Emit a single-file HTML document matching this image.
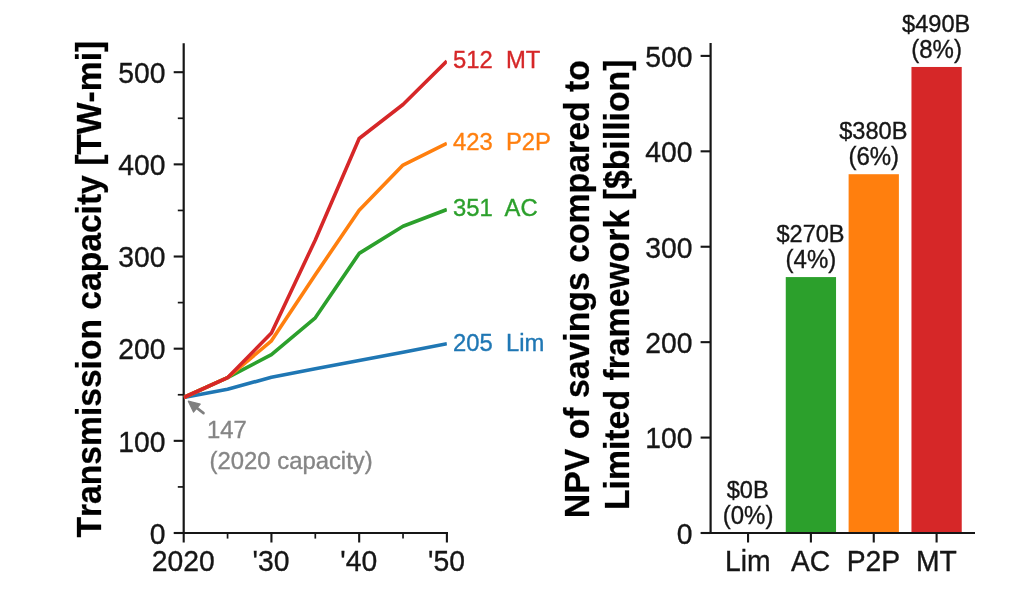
<!DOCTYPE html>
<html lang="en"><head><meta charset="utf-8"><title>Transmission capacity and NPV of savings</title>
<style>html,body{margin:0;padding:0;background:#fff}svg{display:block}text{font-family:"Liberation Sans",Arial,Helvetica,sans-serif;white-space:pre}</style></head><body>
<svg width="1024" height="594" viewBox="0 0 1024 594">
<rect width="1024" height="594" fill="#fff"/>
<defs><clipPath id="lc"><rect x="183.7" y="43.2" width="263.20" height="489.80"/></clipPath></defs>
<g stroke="#161616" fill="none">
<line x1="173.70" x2="183.70" y1="533.00" y2="533.00" stroke-width="2.1"/>
<line x1="173.70" x2="183.70" y1="440.84" y2="440.84" stroke-width="2.1"/>
<line x1="173.70" x2="183.70" y1="348.68" y2="348.68" stroke-width="2.1"/>
<line x1="173.70" x2="183.70" y1="256.52" y2="256.52" stroke-width="2.1"/>
<line x1="173.70" x2="183.70" y1="164.36" y2="164.36" stroke-width="2.1"/>
<line x1="173.70" x2="183.70" y1="72.20" y2="72.20" stroke-width="2.1"/>
<line x1="177.80" x2="183.70" y1="486.92" y2="486.92" stroke-width="1.7"/>
<line x1="177.80" x2="183.70" y1="394.76" y2="394.76" stroke-width="1.7"/>
<line x1="177.80" x2="183.70" y1="302.60" y2="302.60" stroke-width="1.7"/>
<line x1="177.80" x2="183.70" y1="210.44" y2="210.44" stroke-width="1.7"/>
<line x1="177.80" x2="183.70" y1="118.28" y2="118.28" stroke-width="1.7"/>
<line x1="183.70" x2="183.70" y1="533.00" y2="542.50" stroke-width="2.1"/>
<line x1="271.43" x2="271.43" y1="533.00" y2="542.50" stroke-width="2.1"/>
<line x1="359.17" x2="359.17" y1="533.00" y2="542.50" stroke-width="2.1"/>
<line x1="446.90" x2="446.90" y1="533.00" y2="542.50" stroke-width="2.1"/>
<line x1="227.57" x2="227.57" y1="533.00" y2="538.60" stroke-width="1.7"/>
<line x1="315.30" x2="315.30" y1="533.00" y2="538.60" stroke-width="1.7"/>
<line x1="403.03" x2="403.03" y1="533.00" y2="538.60" stroke-width="1.7"/>
</g>
<g stroke="#161616" stroke-width="2.2" stroke-linecap="square" fill="none">
<line x1="183.7" x2="183.7" y1="44.30" y2="533.0"/>
<line x1="183.7" x2="446.9" y1="533.0" y2="533.0"/>
</g>
<g fill="none" stroke-width="3.6" stroke-linejoin="round" clip-path="url(#lc)">
<polyline points="183.70,397.52 227.57,389.23 271.43,377.25 315.30,368.77 359.17,360.48 403.03,352.18 446.90,343.70" stroke="#1f77b4"/>
<polyline points="183.70,397.52 227.57,377.71 271.43,354.67 315.30,317.81 359.17,253.39 403.03,226.29 446.90,209.52" stroke="#2ca02c"/>
<polyline points="183.70,397.52 227.57,377.71 271.43,340.85 315.30,274.77 359.17,210.16 403.03,165.10 446.90,143.35" stroke="#ff7f0e"/>
<polyline points="183.70,397.52 227.57,377.71 271.43,333.01 315.30,239.93 359.17,138.46 403.03,104.46 446.90,61.14" stroke="#d62728"/>
</g>
<g font-size="28.3" fill="#161616" stroke="#161616" stroke-width="0.35">
<g text-anchor="end">
<text transform="translate(165.40 543.80) scale(1 1.04)">0</text>
<text transform="translate(165.40 451.64) scale(1 1.04)">100</text>
<text transform="translate(165.40 359.48) scale(1 1.04)">200</text>
<text transform="translate(165.40 267.32) scale(1 1.04)">300</text>
<text transform="translate(165.40 175.16) scale(1 1.04)">400</text>
<text transform="translate(165.40 83.00) scale(1 1.04)">500</text>
</g><g text-anchor="middle">
<text transform="translate(183.30 571.30) scale(1 1.04)">2020</text>
<text transform="translate(271.03 571.30) scale(1 1.04)">'30</text>
<text transform="translate(358.77 571.30) scale(1 1.04)">'40</text>
<text transform="translate(446.50 571.30) scale(1 1.04)">'50</text>
</g></g>
<g font-size="23.8" stroke-width="0.35">
<text transform="translate(453.00 350.50) scale(1 1.04)" fill="#1f77b4" stroke="#1f77b4">205  Lim</text>
<text transform="translate(453.00 216.32) scale(1 1.04)" fill="#2ca02c" stroke="#2ca02c">351  AC</text>
<text transform="translate(453.00 150.15) scale(1 1.04)" fill="#ff7f0e" stroke="#ff7f0e">423  P2P</text>
<text transform="translate(453.00 67.94) scale(1 1.04)" fill="#d62728" stroke="#d62728">512  MT</text>
</g>
<g fill="#858585" stroke="#858585" font-size="23.85" stroke-width="0.35"><text transform="translate(207.00 437.70) scale(1 1.04)">147</text><text transform="translate(209.60 468.60) scale(1 1.04)">(2020 capacity)</text></g>
<line x1="203.5" y1="413.1" x2="194.5" y2="406.1" stroke="#7f7f7f" stroke-width="2.6" stroke-linecap="round"/>
<polygon points="188.3,401.2 200.2,404.1 193.5,412.0" fill="#7f7f7f" stroke="#7f7f7f" stroke-width="1.2" stroke-linejoin="round"/>
<g font-size="33.62" font-weight="bold" fill="#000" stroke="#000" stroke-width="0.25" style="font-kerning:none"><text transform="translate(101.00 537.50) rotate(-90) scale(1 1.04)">Transmission capacity [TW-mi]</text></g>
<rect x="785.76" y="277.08" width="50.28" height="255.92" fill="#2ca02c"/>
<rect x="848.61" y="174.22" width="50.28" height="358.78" fill="#ff7f0e"/>
<rect x="911.46" y="66.97" width="50.28" height="466.03" fill="#d62728"/>
<g stroke="#161616" fill="none">
<line x1="700.60" x2="710.60" y1="533.00" y2="533.00" stroke-width="2.1"/>
<line x1="700.60" x2="710.60" y1="437.58" y2="437.58" stroke-width="2.1"/>
<line x1="700.60" x2="710.60" y1="342.16" y2="342.16" stroke-width="2.1"/>
<line x1="700.60" x2="710.60" y1="246.74" y2="246.74" stroke-width="2.1"/>
<line x1="700.60" x2="710.60" y1="151.32" y2="151.32" stroke-width="2.1"/>
<line x1="700.60" x2="710.60" y1="55.90" y2="55.90" stroke-width="2.1"/>
<line x1="748.05" x2="748.05" y1="533.00" y2="542.50" stroke-width="2.1"/>
<line x1="810.90" x2="810.90" y1="533.00" y2="542.50" stroke-width="2.1"/>
<line x1="873.75" x2="873.75" y1="533.00" y2="542.50" stroke-width="2.1"/>
<line x1="936.60" x2="936.60" y1="533.00" y2="542.50" stroke-width="2.1"/>
</g>
<g stroke="#161616" stroke-width="2.2" stroke-linecap="square" fill="none">
<line x1="710.6" x2="710.6" y1="44.00" y2="533.0"/>
<line x1="710.6" x2="973.9" y1="533.0" y2="533.0"/>
</g>
<g font-size="28.3" fill="#161616" stroke="#161616" stroke-width="0.35">
<g text-anchor="end">
<text transform="translate(692.50 543.80) scale(1 1.04)">0</text>
<text transform="translate(692.50 448.38) scale(1 1.04)">100</text>
<text transform="translate(692.50 352.96) scale(1 1.04)">200</text>
<text transform="translate(692.50 257.54) scale(1 1.04)">300</text>
<text transform="translate(692.50 162.12) scale(1 1.04)">400</text>
<text transform="translate(692.50 66.70) scale(1 1.04)">500</text>
</g><g text-anchor="middle">
<text transform="translate(747.75 571.30) scale(1 1.04)">Lim</text>
<text transform="translate(810.60 571.30) scale(1 1.04)">AC</text>
<text transform="translate(873.45 571.30) scale(1 1.04)">P2P</text>
<text transform="translate(936.30 571.30) scale(1 1.04)">MT</text>
</g></g>
<g fill="#161616" stroke="#161616" text-anchor="middle" stroke-width="0.35">
<g font-size="23.6"><text transform="translate(747.65 498.20) scale(1 1.04)">$0B</text></g><g font-size="24.0"><text transform="translate(748.05 524.00) scale(1 1.04)">(0%)</text></g>
<g font-size="23.6"><text transform="translate(810.50 242.28) scale(1 1.04)">$270B</text></g><g font-size="24.0"><text transform="translate(810.90 268.08) scale(1 1.04)">(4%)</text></g>
<g font-size="23.6"><text transform="translate(873.35 139.42) scale(1 1.04)">$380B</text></g><g font-size="24.0"><text transform="translate(873.75 165.22) scale(1 1.04)">(6%)</text></g>
<g font-size="23.6"><text transform="translate(936.20 32.17) scale(1 1.04)">$490B</text></g><g font-size="24.0"><text transform="translate(936.60 57.97) scale(1 1.04)">(8%)</text></g>
</g>
<g font-size="33.8" font-weight="bold" fill="#000" stroke="#000" stroke-width="0.25">
<text transform="translate(589.10 518.20) rotate(-90) scale(1 1.04)">NPV of savings compared to</text>
<text transform="translate(628.60 510.10) rotate(-90) scale(1 1.04)">Limited framework [$billion]</text>
</g>
</svg></body></html>
